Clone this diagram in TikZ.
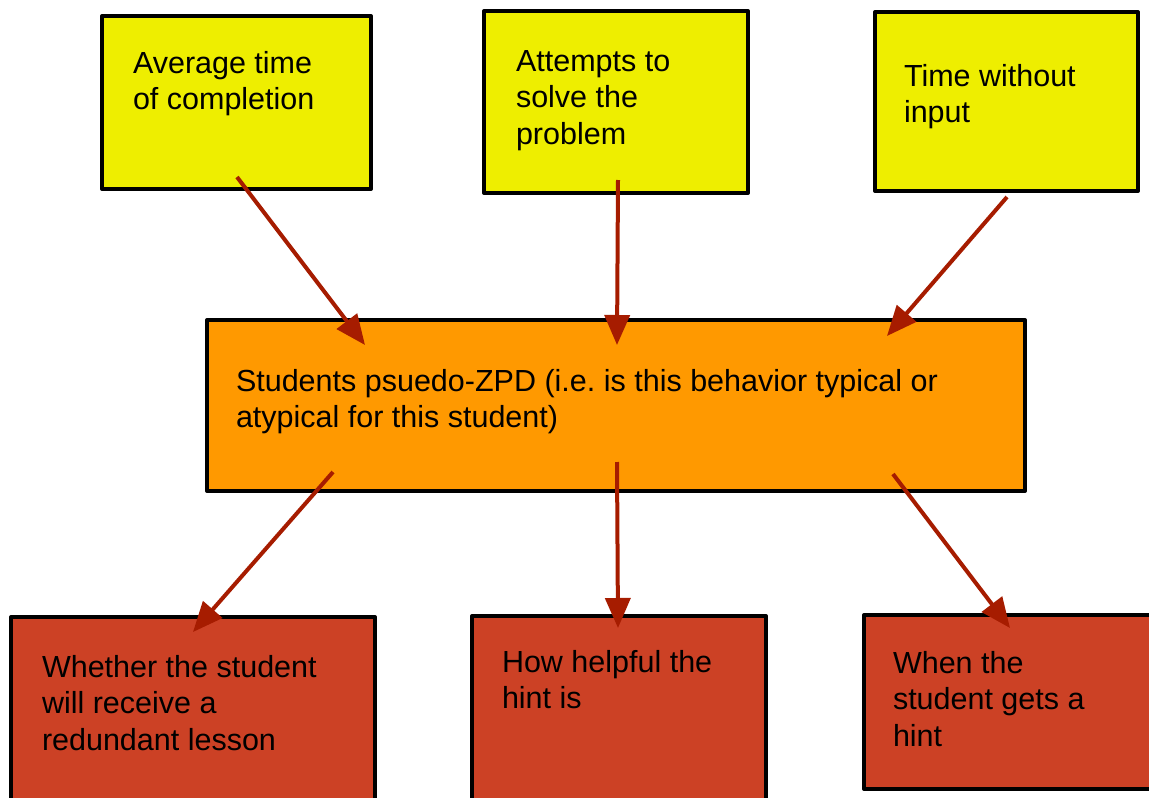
\documentclass[tikz,border=0pt]{standalone}
\usepackage{fontspec}
\setmainfont{Liberation Sans}
\usetikzlibrary{arrows.meta}
\frenchspacing
\definecolor{boxyellow}{HTML}{EEEE00}
\definecolor{boxorange}{HTML}{FF9900}
\definecolor{boxred}{HTML}{CC4125}
\definecolor{arrowred}{HTML}{A61C00}
\tikzset{
  box/.style={draw=black, line width=4pt, line join=round, rectangle, anchor=north west, inner sep=0pt, outer sep=0pt},
  txt/.style={anchor=base west, inner sep=0pt, outer sep=0pt, text=black},
  conn/.style={draw=arrowred, line width=4pt, -{Triangle[length=30pt,width=25pt]}},
}
\newcommand{\boxtext}[2]{\parbox[t]{#1}{\frenchspacing\fontsize{30.5}{36.8}\selectfont\raggedright #2}}
\begin{document}
\begin{tikzpicture}[x=1pt,y=-1pt]
\useasboundingbox (0,0) rectangle (1149,798);
\clip (0,0) rectangle (1149,798);
% top boxes
\node[box, fill=boxyellow, minimum width=269pt, minimum height=173pt] (b1) at (102,16) {};
\node[box, fill=boxyellow, minimum width=264pt, minimum height=182pt] (b2) at (484,11) {};
\node[box, fill=boxyellow, minimum width=263pt, minimum height=179pt] (b3) at (875,12) {};
% middle box
\node[box, fill=boxorange, minimum width=818pt, minimum height=171pt] (mid) at (207,320) {};
% bottom boxes
\node[box, fill=boxred, minimum width=364pt, minimum height=220pt] (r1) at (11,617) {};
\node[box, fill=boxred, minimum width=294pt, minimum height=220pt] (r2) at (472,616) {};
\node[box, fill=boxred, minimum width=320pt, minimum height=174pt] (r3) at (864,615) {};
% texts
\node[txt] (t1) at (133,73) {\boxtext{220pt}{Average time\\of completion}};
\node[txt] (t2) at (516,71) {\boxtext{220pt}{Attempts to\\solve the\\problem}};
\node[txt] (t3) at (904,86) {\boxtext{220pt}{Time without\\input}};
\node[txt] (tm) at (236,391) {\boxtext{780pt}{Students psuedo-ZPD (i.e. is this behavior typical or\\atypical for this student)}};
\node[txt] (tr1) at (42,677) {\boxtext{320pt}{Whether the student\\will receive a\\redundant lesson}};
\node[txt] (tr2) at (502,672) {\boxtext{260pt}{How helpful the\\hint is}};
\node[txt] (tr3) at (893,673) {\boxtext{260pt}{When the\\student gets a\\hint}};
% connector endpoints
\coordinate (a1s) at (237,177);
\coordinate (a1e) at (365,345);
\coordinate (a2s) at (618,180);
\coordinate (a2e) at (617,345);
\coordinate (a3s) at (1007,197);
\coordinate (a3e) at (887,336);
\coordinate (c1s) at (333,472);
\coordinate (c1e) at (193,632);
\coordinate (c2s) at (617,462);
\coordinate (c2e) at (618,628);
\coordinate (c3s) at (893,474);
\coordinate (c3e) at (1010,628);
\draw[conn] (a1s) -- (a1e);
\draw[conn] (a2s) -- (a2e);
\draw[conn] (a3s) -- (a3e);
\draw[conn] (c1s) -- (c1e);
\draw[conn] (c2s) -- (c2e);
\draw[conn] (c3s) -- (c3e);
\end{tikzpicture}
\end{document}
